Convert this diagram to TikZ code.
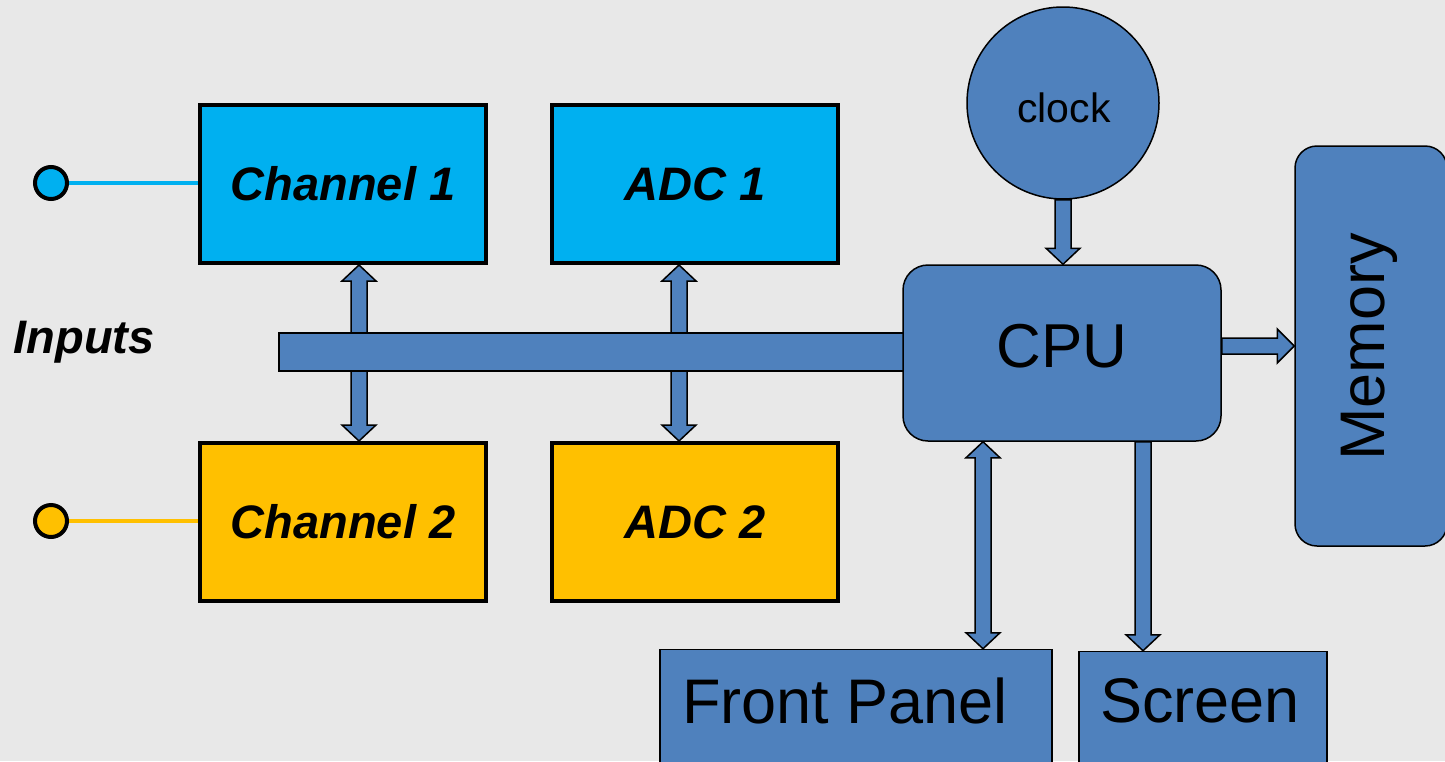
\documentclass[tikz,border=0pt]{standalone}
\usepackage{fontspec}
\setmainfont{Liberation Sans}
\usetikzlibrary{calc}
\definecolor{bgc}{HTML}{E8E8E8}
\definecolor{cyanb}{HTML}{00B0F0}
\definecolor{orangeb}{HTML}{FFC000}
\definecolor{blueb}{HTML}{4F81BD}
\pgfdeclarelayer{bglayer}
\pgfdeclarelayer{arrowlayer}
\pgfsetlayers{bglayer,arrowlayer,main}
\newcommand\arrDbl[2]{%
 \path #1 coordinate (atop) #2 coordinate (abot);
 \draw[blockarrow] let \p1=(atop), \p2=(abot) in
  (\x1,\y1) -- (\x1+17pt,\y1-16pt) -- (\x1+8pt,\y1-16pt) -- (\x1+8pt,\y2+16pt) -- (\x1+17pt,\y2+16pt) -- (\x1,\y2) -- (\x1-17pt,\y2+16pt) -- (\x1-8pt,\y2+16pt) -- (\x1-8pt,\y1-16pt) -- (\x1-17pt,\y1-16pt) -- cycle;}
\newcommand\arrDown[2]{%
 \path #1 coordinate (atop) #2 coordinate (abot);
 \draw[blockarrow] let \p1=(atop), \p2=(abot) in
  (\x1-8pt,\y1) -- (\x1+8pt,\y1) -- (\x1+8pt,\y2+16pt) -- (\x1+17pt,\y2+16pt) -- (\x1,\y2) -- (\x1-17pt,\y2+16pt) -- (\x1-8pt,\y2+16pt) -- cycle;}
\newcommand\arrRight[2]{%
 \path #1 coordinate (aleft) #2 coordinate (aright);
 \draw[blockarrow] let \p1=(aleft), \p2=(aright) in
  (\x1,\y1+8pt) -- (\x2-17pt,\y1+8pt) -- (\x2-17pt,\y1+17pt) -- (\x2,\y1) -- (\x2-17pt,\y1-17pt) -- (\x2-17pt,\y1-8pt) -- (\x1,\y1-8pt) -- cycle;}
\begin{document}
\begin{tikzpicture}[x=1pt,y=-1pt,
  blockarrow/.style={fill=blueb, draw=black, line width=1.5pt, line join=miter},
  chbox/.style={draw=black, line width=4pt, inner sep=0pt, minimum width=286pt, minimum height=158pt, font=\fontsize{47}{50}\selectfont\bfseries\itshape},
  bluebox/.style={draw=black, line width=1.5pt, fill=blueb, inner sep=0pt},
  bigtxt/.style={inner sep=0pt, font=\fontsize{63}{66}\selectfont},
  inpt/.style={circle, draw=black, line width=4pt, minimum size=32pt, inner sep=0pt},
  inline/.style={line width=3.5pt}]
\useasboundingbox (0,0) rectangle (1445,761);
\begin{pgfonlayer}{bglayer}
\fill[bgc] (0,0) rectangle (1445,761);
\end{pgfonlayer}
% bus
\node[bluebox, minimum width=626pt, minimum height=38pt] (bus) at (592,352) {};
% channel and ADC boxes
\node[chbox, fill=cyanb] (ch1) at (343,184) {Channel 1};
\node[chbox, fill=cyanb] (adc1) at (695,184) {ADC 1};
\node[chbox, fill=orangeb] (ch2) at (343,522) {Channel 2};
\node[chbox, fill=orangeb] (adc2) at (695,522) {ADC 2};
% CPU, clock, memory, front panel, screen
\node[bluebox, rounded corners=25pt, minimum width=318pt, minimum height=176pt] (cpu) at (1062,353) {};
\node[bigtxt, font=\fontsize{62}{64}\selectfont] (cputxt) at (1062,346) {CPU};
\node[bluebox, circle, minimum size=192pt] (clock) at (1063,103) {};
\node[inner sep=0pt, font=\fontsize{41}{44}\selectfont] (clocktxt) at (1064,108) {clock};
\node[bluebox, rounded corners=22pt, minimum width=152pt, minimum height=400pt] (mem) at (1371,346) {};
\node[bigtxt, rotate=90] (memtxt) at (1369,347) {Memory};
\node[bluebox, minimum width=392pt, minimum height=125pt] (fp) at (856,712) {};
\node[bigtxt] (fptxt) at (845,701) {Front Panel};
\node[bluebox, minimum width=248pt, minimum height=123pt] (scr) at (1203,713) {};
\node[bigtxt] (scrtxt) at (1200,701) {Screen};
% inputs
\node[inner sep=0pt, font=\fontsize{47}{50}\selectfont\bfseries\itshape] (inputs) at (84,342) {Inputs};
\node[inpt, fill=cyanb] (in1) at (51,183) {};
\node[inpt, fill=orangeb] (in2) at (51,521) {};
\begin{pgfonlayer}{arrowlayer}
\draw[inline, cyanb] (in1.east) -- (in1 -| ch1.west);
\draw[inline, orangeb] (in2.east) -- (in2 -| ch2.west);
\arrDbl{([xshift=16pt]ch1.south)}{([xshift=16pt]ch2.north)}
\arrDbl{([xshift=-16pt]adc1.south)}{([xshift=-16pt]adc2.north)}
\arrDown{(clock.south)}{(clock.south |- cpu.north)}
\coordinate (memy) at ([yshift=7pt]cpu.east);
\arrRight{(memy)}{(memy -| mem.west)}
\coordinate (fpx) at ([xshift=127pt]fp.north);
\arrDbl{(cpu.south -| fpx)}{(fpx)}
\coordinate (scx) at ([xshift=-60pt]scr.north);
\arrDown{(cpu.south -| scx)}{(scx)}
\end{pgfonlayer}
\end{tikzpicture}
\end{document}
